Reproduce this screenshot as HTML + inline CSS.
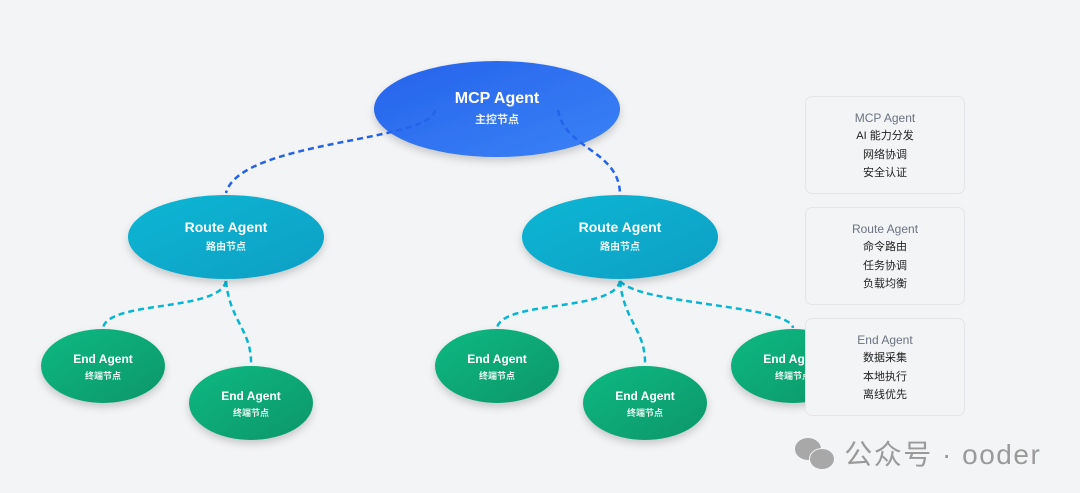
<!DOCTYPE html>
<html><head><meta charset="utf-8"><style>
body{margin:0;width:1080px;height:493px;background:#f3f4f6;overflow:hidden;font-family:"Liberation Sans","Noto Sans CJK SC",sans-serif;position:relative}
.box{position:absolute;left:805px;width:160px;height:98px;border:1px solid #e3e5e8;border-radius:7px;background:#f3f4f6;text-align:center;box-sizing:border-box;padding-top:12px}
.box .t{font-size:12px;color:#6b7280;line-height:18px}
.box .l{font-size:11px;color:#222;line-height:18.5px}
.wm{position:absolute;left:795px;top:433px;font-size:28px;color:#9a9a9a;font-family:"Liberation Sans","Noto Sans CJK SC",sans-serif;white-space:nowrap;letter-spacing:1.5px}
</style></head><body>
<svg width="1080" height="493" style="position:absolute;left:0;top:0">
<defs>
<linearGradient id="gb" x1="0" y1="0" x2="1" y2="1"><stop offset="0" stop-color="#2563eb"/><stop offset="1" stop-color="#3b82f6"/></linearGradient>
<linearGradient id="gc" x1="0" y1="0" x2="1" y2="1"><stop offset="0" stop-color="#06b6d4"/><stop offset="1" stop-color="#0e9fc4"/></linearGradient>
<linearGradient id="gg" x1="0" y1="0" x2="1" y2="1"><stop offset="0" stop-color="#10b981"/><stop offset="1" stop-color="#059669"/></linearGradient>
<filter id="sh" x="-20%" y="-20%" width="140%" height="150%"><feDropShadow dx="0" dy="4" stdDeviation="4" flood-color="#000" flood-opacity="0.18"/></filter>
</defs>
<g fill="none" stroke-width="2.5" stroke-dasharray="6,4">
<path d="M226,281 C220,312 108,300 103,328" stroke="#06b6d4"/>
<path d="M226,281 C230,322 252,330 251,365" stroke="#06b6d4"/>
<path d="M620,281 C614,312 502,300 497,328" stroke="#06b6d4"/>
<path d="M620,281 C624,322 646,330 645,365" stroke="#06b6d4"/>
<path d="M620,281 C640,305 790,305 793,328" stroke="#06b6d4"/>
</g>
<g filter="url(#sh)">
<ellipse cx="497" cy="109" rx="123" ry="48" fill="url(#gb)"/>
<ellipse cx="226" cy="237" rx="98" ry="42" fill="url(#gc)"/>
<ellipse cx="620" cy="237" rx="98" ry="42" fill="url(#gc)"/>
<ellipse cx="103" cy="366" rx="62" ry="37" fill="url(#gg)"/>
<ellipse cx="251" cy="403" rx="62" ry="37" fill="url(#gg)"/>
<ellipse cx="497" cy="366" rx="62" ry="37" fill="url(#gg)"/>
<ellipse cx="645" cy="403" rx="62" ry="37" fill="url(#gg)"/>
<ellipse cx="793" cy="366" rx="62" ry="37" fill="url(#gg)"/>
</g>
<g fill="none" stroke-width="2.5" stroke-dasharray="6,4">
<path d="M435,110 C432,142 240,140 226,193" stroke="#2563eb"/>
<path d="M558,110 C565,150 620,150 620,195" stroke="#2563eb"/>
</g>
<g fill="#fff" text-anchor="middle" font-family="Liberation Sans,Noto Sans CJK SC,sans-serif">
<text x="497" y="103" font-size="16" font-weight="bold">MCP Agent</text>
<text x="497" y="123" font-size="11" font-weight="bold" opacity="0.9">主控节点</text>
<text x="226" y="232" font-size="14" font-weight="bold">Route Agent</text>
<text x="226" y="250" font-size="10" font-weight="bold" opacity="0.9">路由节点</text>
<text x="620" y="232" font-size="14" font-weight="bold">Route Agent</text>
<text x="620" y="250" font-size="10" font-weight="bold" opacity="0.9">路由节点</text>
<text x="103" y="363" font-size="12" font-weight="bold">End Agent</text>
<text x="103" y="379" font-size="9" font-weight="bold" opacity="0.9">终端节点</text>
<text x="251" y="400" font-size="12" font-weight="bold">End Agent</text>
<text x="251" y="416" font-size="9" font-weight="bold" opacity="0.9">终端节点</text>
<text x="497" y="363" font-size="12" font-weight="bold">End Agent</text>
<text x="497" y="379" font-size="9" font-weight="bold" opacity="0.9">终端节点</text>
<text x="645" y="400" font-size="12" font-weight="bold">End Agent</text>
<text x="645" y="416" font-size="9" font-weight="bold" opacity="0.9">终端节点</text>
<text x="793" y="363" font-size="12" font-weight="bold">End Agent</text>
<text x="793" y="379" font-size="9" font-weight="bold" opacity="0.9">终端节点</text>
</g>
</svg>
<div class="box" style="top:96px"><div class="t">MCP Agent</div><div class="l">AI 能力分发</div><div class="l">网络协调</div><div class="l">安全认证</div></div>
<div class="box" style="top:207px"><div class="t">Route Agent</div><div class="l">命令路由</div><div class="l">任务协调</div><div class="l">负载均衡</div></div>
<div class="box" style="top:318px"><div class="t">End Agent</div><div class="l">数据采集</div><div class="l">本地执行</div><div class="l">离线优先</div></div>
<div class="wm"><span style="display:inline-block;width:40px;height:30px;vertical-align:-4px;position:relative"><span style="position:absolute;left:0;top:0;width:26px;height:22px;border-radius:50%;background:#a8a8a8"></span><span style="position:absolute;left:14px;top:10px;width:24px;height:20px;border-radius:50%;background:#a8a8a8;border:1px solid #f3f4f6"></span></span> 公众号 · ooder</div>
</body></html>
